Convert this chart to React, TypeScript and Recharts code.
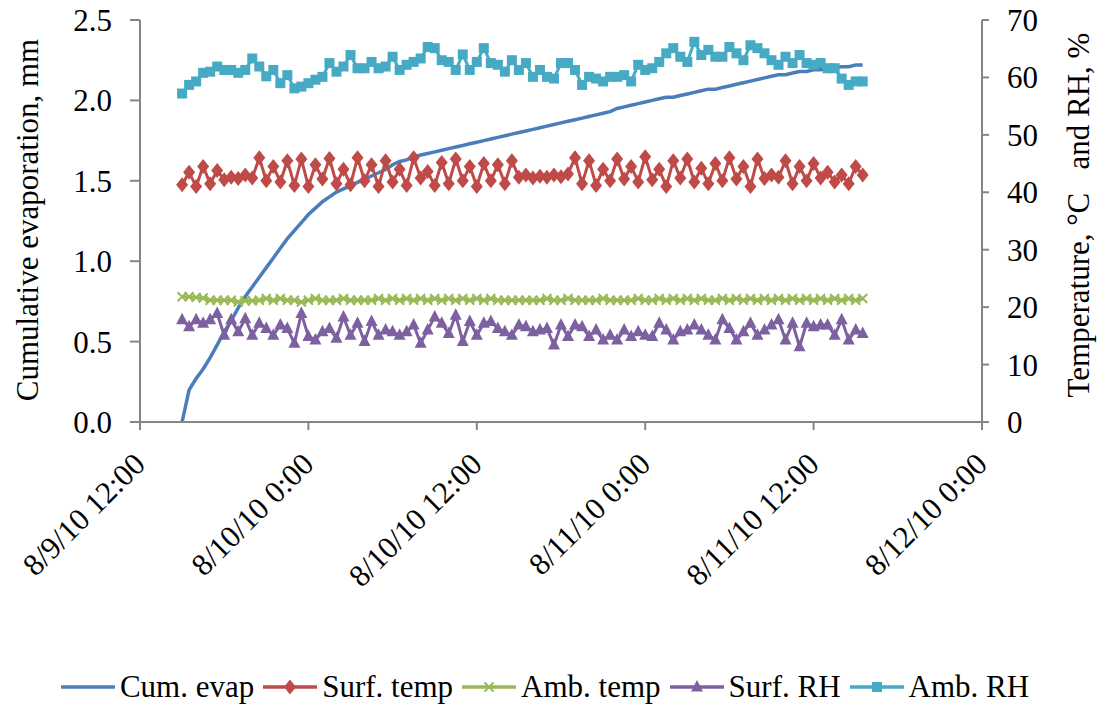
import React from 'react';
import { ComposedChart, Line, XAxis, YAxis, Legend } from 'recharts';

const FONT = '"Times New Roman", "Liberation Serif", Tinos, "DejaVu Serif", serif';

// x axis: hours after 8/9/10 12:00
const tickHours = [0, 12, 24, 36, 48, 60];
const tickLabels = ['8/9/10 12:00', '8/10/10 0:00', '8/10/10 12:00', '8/11/10 0:00', '8/11/10 12:00', '8/12/10 0:00'];
const startHour = 3; // first reading 8/9/10 15:00
const stepHours = 0.5; // readings every 30 min

const cumEvap = [
  0, 0.20, 0.27, 0.33, 0.40, 0.48, 0.56, 0.63, 0.71, 0.78,
  0.84, 0.90, 0.96, 1.02, 1.08, 1.14, 1.19, 1.24, 1.29, 1.33,
  1.37, 1.40, 1.43, 1.45, 1.47, 1.49, 1.51, 1.53, 1.55, 1.57,
  1.60, 1.62, 1.63, 1.65, 1.66, 1.67, 1.68, 1.69, 1.70, 1.71,
  1.72, 1.73, 1.74, 1.75, 1.76, 1.77, 1.78, 1.79, 1.80, 1.81,
  1.82, 1.83, 1.84, 1.85, 1.86, 1.87, 1.88, 1.89, 1.90, 1.91,
  1.92, 1.93, 1.95, 1.96, 1.97, 1.98, 1.99, 2.00, 2.01, 2.02,
  2.02, 2.03, 2.04, 2.05, 2.06, 2.07, 2.07, 2.08, 2.09, 2.10,
  2.11, 2.12, 2.13, 2.14, 2.15, 2.16, 2.16, 2.17, 2.18, 2.18,
  2.19, 2.19, 2.20, 2.20, 2.21, 2.21, 2.22, 2.22,
];

const surfTemp = [
  41.3, 43.5, 41.0, 44.5, 41.5, 43.8, 42.2, 42.6, 42.4, 43.0,
  42.5, 46.0, 42.0, 44.5, 41.8, 45.5, 41.2, 45.8, 41.0, 44.8,
  42.3, 45.9, 41.5, 44.0, 41.3, 46.0, 42.0, 44.8, 41.0, 45.5,
  41.8, 44.0, 41.2, 46.0, 42.5, 43.6, 41.2, 45.2, 41.5, 45.8,
  42.0, 44.5, 41.0, 45.0, 42.0, 44.8, 41.5, 45.5, 42.6, 43.0,
  42.5, 42.8, 42.6, 43.0, 42.7, 43.2, 46.0, 41.5, 45.5, 41.2,
  44.0, 42.0, 45.8, 42.3, 44.5, 41.8, 46.2, 42.2, 44.0, 41.0,
  45.5, 42.5, 45.8, 41.8, 44.2, 41.5, 45.0, 42.0, 46.0, 42.3,
  44.5, 41.0, 45.8, 42.4, 43.0, 42.6, 45.5, 41.5, 44.5, 42.0,
  45.0, 42.5, 43.5, 41.8, 43.0, 41.5, 44.5, 43.0,
];

const ambTemp = [
  21.8, 21.8, 21.7, 21.6, 21.2, 21.2, 21.2, 21.2, 20.9, 21.1,
  21.1, 21.2, 21.5, 21.2, 21.5, 21.2, 21.2, 20.9, 21.2, 21.5,
  21.2, 21.2, 21.2, 21.5, 21.2, 21.2, 21.2, 21.2, 21.5, 21.2,
  21.5, 21.2, 21.5, 21.2, 21.5, 21.2, 21.5, 21.2, 21.5, 21.2,
  21.5, 21.2, 21.5, 21.2, 21.5, 21.2, 21.2, 21.2, 21.2, 21.2,
  21.2, 21.2, 21.5, 21.2, 21.2, 21.5, 21.2, 21.2, 21.2, 21.2,
  21.5, 21.2, 21.2, 21.2, 21.2, 21.5, 21.2, 21.2, 21.5, 21.2,
  21.5, 21.2, 21.5, 21.2, 21.5, 21.2, 21.2, 21.5, 21.2, 21.5,
  21.2, 21.5, 21.2, 21.5, 21.2, 21.5, 21.2, 21.5, 21.2, 21.5,
  21.2, 21.5, 21.2, 21.5, 21.2, 21.5, 21.2, 21.5,
];

const surfRH = [
  17.8, 16.6, 17.8, 17.2, 17.8, 18.9, 15.1, 17.8, 15.7, 18.0,
  15.1, 17.2, 16.3, 15.1, 16.9, 16.3, 13.7, 18.9, 14.9, 14.3,
  15.7, 16.3, 14.6, 18.3, 15.1, 17.2, 14.0, 17.5, 15.1, 16.0,
  15.7, 15.1, 15.7, 16.9, 13.7, 16.0, 18.3, 17.2, 15.4, 18.6,
  14.0, 17.5, 15.1, 17.2, 17.5, 16.3, 15.7, 15.1, 16.9, 16.6,
  15.7, 16.0, 16.3, 13.4, 16.9, 14.9, 16.9, 16.6, 14.9, 16.0,
  14.3, 15.1, 14.3, 16.0, 14.9, 15.7, 15.1, 14.9, 17.2, 16.0,
  14.3, 15.7, 16.0, 16.9, 16.0, 15.1, 14.3, 17.8, 16.3, 14.3,
  15.7, 17.2, 15.1, 16.0, 16.9, 17.8, 14.3, 17.2, 13.1, 17.2,
  16.6, 16.9, 16.9, 15.1, 17.8, 14.3, 16.0, 15.4,
];

const ambRH = [
  57.2, 58.7, 59.3, 60.8, 61.0, 61.9, 61.3, 61.3, 60.8, 61.3,
  63.3, 61.9, 60.2, 61.3, 59.0, 60.4, 58.1, 58.4, 59.0, 59.6,
  60.1, 62.5, 61.0, 61.9, 63.9, 61.6, 61.6, 62.7, 61.6, 61.9,
  63.6, 61.3, 62.2, 62.7, 63.3, 65.3, 65.1, 63.0, 62.7, 61.3,
  64.0, 61.3, 62.7, 65.1, 62.5, 62.2, 61.0, 63.0, 61.3, 62.5,
  60.1, 61.3, 60.1, 59.8, 62.5, 62.5, 61.3, 58.7, 60.1, 59.8,
  59.3, 60.1, 60.1, 60.4, 59.3, 62.2, 61.3, 61.6, 62.7, 64.2,
  65.1, 63.6, 62.7, 66.2, 63.9, 64.8, 63.6, 63.6, 65.3, 64.2,
  63.0, 65.6, 65.1, 64.2, 63.0, 62.2, 63.6, 62.5, 63.9, 62.5,
  62.2, 62.5, 61.6, 61.6, 59.8, 58.7, 59.3, 59.3,
];

const leftTicks = [0, 0.5, 1, 1.5, 2, 2.5];
const rightTicks = [0, 10, 20, 30, 40, 50, 60, 70];

const COLORS = {
  cumEvap: '#4A7EBB',
  surfTemp: '#BE4B48',
  ambTemp: '#98B954',
  surfRH: '#7D60A0',
  ambRH: '#46AAC5',
};

const data = cumEvap.map((v, i) => ({
  t: startHour + i * stepHours,
  cumEvap: v,
  surfTemp: surfTemp[i],
  ambTemp: ambTemp[i],
  surfRH: surfRH[i],
  ambRH: ambRH[i],
}));

type Shape = 'none' | 'diamond' | 'cross' | 'triangle' | 'square';

const Marker = ({ cx, cy, shape, color }: { cx: number; cy: number; shape: Shape; color: string }) => {
  if (cx == null || cy == null) return null;
  switch (shape) {
    case 'diamond':
      return <path d={`M${cx},${cy - 7.5}L${cx + 6},${cy}L${cx},${cy + 7.5}L${cx - 6},${cy}Z`} fill={color} />;
    case 'square':
      return <rect x={cx - 5} y={cy - 5} width={10} height={10} fill={color} />;
    case 'triangle':
      return <path d={`M${cx},${cy - 7}L${cx + 6},${cy + 4.5}L${cx - 6},${cy + 4.5}Z`} fill={color} />;
    case 'cross':
      return (
        <path
          d={`M${cx - 4.5},${cy - 4.5}L${cx + 4.5},${cy + 4.5}M${cx - 4.5},${cy + 4.5}L${cx + 4.5},${cy - 4.5}`}
          stroke={color}
          strokeWidth={2}
          fill="none"
        />
      );
    default:
      return null;
  }
};

const dotFor = (shape: Shape, color: string) => (p: any) => (
  <Marker key={`${shape}-${p.index}`} cx={p.cx} cy={p.cy} shape={shape} color={color} />
);

const legendItems: { name: string; color: string; shape: Shape }[] = [
  { name: 'Cum. evap', color: COLORS.cumEvap, shape: 'none' },
  { name: 'Surf. temp', color: COLORS.surfTemp, shape: 'diamond' },
  { name: 'Amb. temp', color: COLORS.ambTemp, shape: 'cross' },
  { name: 'Surf. RH', color: COLORS.surfRH, shape: 'triangle' },
  { name: 'Amb. RH', color: COLORS.ambRH, shape: 'square' },
];

const renderLegend = () => (
  <div
    style={{
      display: 'flex',
      justifyContent: 'center',
      alignItems: 'center',
      fontFamily: FONT,
      fontSize: 31,
      lineHeight: '36px',
      color: '#000',
    }}
  >
    {legendItems.map((it) => (
      <div key={it.name} style={{ display: 'flex', alignItems: 'center', marginRight: 9 }}>
        <svg width={54} height={20} style={{ display: 'block' }}>
          <line x1={0} y1={10} x2={54} y2={10} stroke={it.color} strokeWidth={3.5} />
          <Marker cx={27} cy={10} shape={it.shape} color={it.color} />
        </svg>
        <span style={{ marginLeft: 5, whiteSpace: 'nowrap' }}>{it.name}</span>
      </div>
    ))}
  </div>
);

const XTick = ({ x, y, payload }: any) => (
  <text
    transform={`translate(${x + 7},${y + 34}) rotate(-45)`}
    textAnchor="end"
    fontFamily={FONT}
    fontSize={31}
    fill="#000"
  >
    {tickLabels[tickHours.indexOf(payload.value)]}
  </text>
);

const axisStroke = { stroke: '#868686', strokeWidth: 2 };
const tickStyle = { fontFamily: FONT, fontSize: 31, fill: '#000' };

export default function App() {
  return (
    <div style={{ width: 1099, height: 708, background: '#fff', fontFamily: FONT }}>
      <style>{'body{margin:0}'}</style>
      <ComposedChart width={1099} height={708} data={data} margin={{ top: 20, right: 0, bottom: 0, left: 0 }}>
        <XAxis
          dataKey="t"
          type="number"
          domain={[0, 60]}
          ticks={tickHours}
          height={286}
          tickSize={8}
          axisLine={axisStroke}
          tickLine={axisStroke}
          tick={<XTick />}
        />
        <YAxis
          yAxisId="left"
          orientation="left"
          domain={[0, 2.5]}
          ticks={leftTicks}
          width={140}
          tickSize={10}
          tickMargin={18}
          axisLine={axisStroke}
          tickLine={axisStroke}
          tick={tickStyle}
          tickFormatter={(v: number) => v.toFixed(1)}
          label={() => (
            <text
              transform="translate(27,220) rotate(-90)"
              textAnchor="middle"
              dominantBaseline="central"
              fontFamily={FONT}
              fontSize={31}
              fill="#000"
            >
              Cumulative evaporation, mm
            </text>
          )}
        />
        <YAxis
          yAxisId="right"
          orientation="right"
          domain={[0, 70]}
          ticks={rightTicks}
          width={117}
          tickSize={7}
          tickMargin={18}
          axisLine={axisStroke}
          tickLine={axisStroke}
          tick={tickStyle}
          label={() => (
            <text
              transform="translate(1078,215) rotate(-90)"
              textAnchor="middle"
              dominantBaseline="central"
              fontFamily={FONT}
              fontSize={31}
              fill="#000"
            >
              {'Temperature, °C\u00A0\u00A0 and RH, %'}
            </text>
          )}
        />
        <Legend
          content={renderLegend}
          layout="horizontal"
          verticalAlign="middle"
          align="center"
          wrapperStyle={{ top: 669, left: 0, width: 1099 }}
        />
        <Line
          yAxisId="left"
          dataKey="cumEvap"
          type="linear"
          stroke={COLORS.cumEvap}
          strokeWidth={3.5}
          dot={false}
          activeDot={false}
          isAnimationActive={false}
        />
        <Line
          yAxisId="right"
          dataKey="surfTemp"
          type="linear"
          stroke={COLORS.surfTemp}
          strokeWidth={3}
          dot={dotFor('diamond', COLORS.surfTemp)}
          activeDot={false}
          isAnimationActive={false}
        />
        <Line
          yAxisId="right"
          dataKey="ambTemp"
          type="linear"
          stroke={COLORS.ambTemp}
          strokeWidth={3}
          dot={dotFor('cross', COLORS.ambTemp)}
          activeDot={false}
          isAnimationActive={false}
        />
        <Line
          yAxisId="right"
          dataKey="surfRH"
          type="linear"
          stroke={COLORS.surfRH}
          strokeWidth={3}
          dot={dotFor('triangle', COLORS.surfRH)}
          activeDot={false}
          isAnimationActive={false}
        />
        <Line
          yAxisId="right"
          dataKey="ambRH"
          type="linear"
          stroke={COLORS.ambRH}
          strokeWidth={3}
          dot={dotFor('square', COLORS.ambRH)}
          activeDot={false}
          isAnimationActive={false}
        />
      </ComposedChart>
    </div>
  );
}
